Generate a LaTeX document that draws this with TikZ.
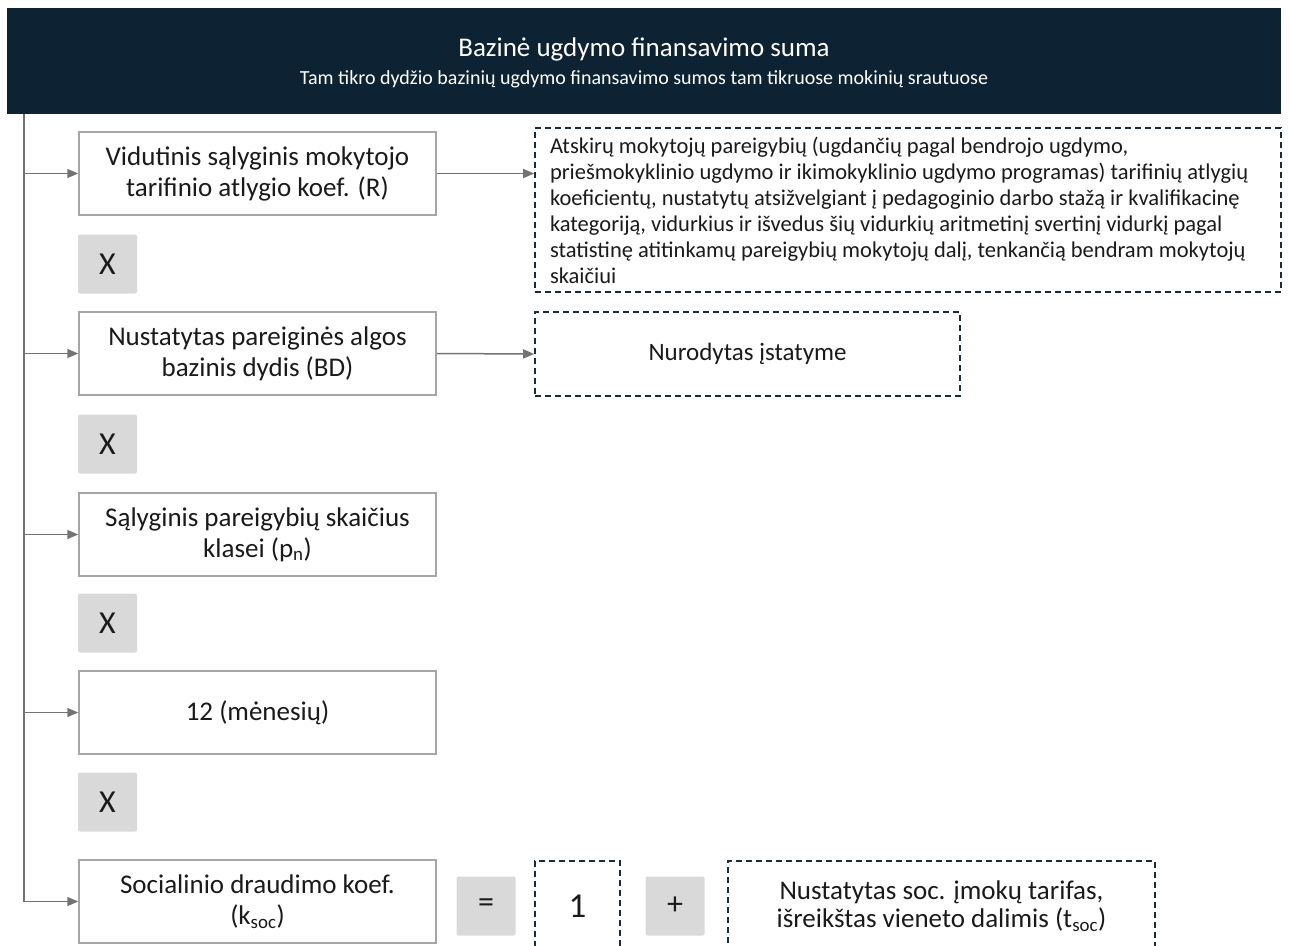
\documentclass[tikz,border=0pt]{standalone}
\usepackage{fontspec}
\setmainfont{Carlito}
\usetikzlibrary{positioning, arrows.meta}
\definecolor{headblue}{HTML}{0D2233}
\definecolor{linegray}{HTML}{737373}
\definecolor{boxgray}{HTML}{A6A6A6}
\definecolor{opgray}{HTML}{D9D9D9}
\definecolor{dashblue}{HTML}{1C2B3A}
\definecolor{textdark}{HTML}{1A1A1A}

\begin{document}
\begin{tikzpicture}[x=1pt, y=-1pt, >={Triangle[length=11pt, width=9pt]},
  box/.style={draw=boxgray, line width=1.5pt, fill=white, text=textdark, minimum width=357pt, minimum height=83pt, inner sep=0pt, align=center, font=\fontsize{27}{31}\selectfont},
  opbox/.style={fill=opgray, rounded corners=2pt, text=textdark, minimum size=59pt, inner sep=0pt, font=\fontsize{32}{34}\selectfont},
  note/.style={draw=dashblue, dashed, dash pattern=on 6pt off 4pt, line width=1.6pt, text=textdark, inner sep=0pt},
  arr/.style={->, draw=linegray, line width=1.5pt}]
  \useasboundingbox (0,0) rectangle (1289,945);
  \clip (0,0) rectangle (1289,945);

  % header
  \node (head) [fill=headblue, minimum width=1274pt, minimum height=106pt, inner sep=0pt] at (644,61) {};
  \node (title) [text=white, font=\fontsize{27}{30}\selectfont] at (644,49) {Bazinė ugdymo finansavimo suma};
  \node (subtitle) [text=white, font=\fontsize{20}{22}\selectfont] at (644,79) {Tam tikro dydžio bazinių ugdymo finansavimo sumos tam tikruose mokinių srautuose};

  % factors
  \node (koefR) [box] at (257.5,173.5) {Vidutinis sąlyginis mokytojo\\tarifinio atlygio koef. (R)};
  \node (bazinis) [box] at (257.5,353.5) {Nustatytas pareiginės algos\\bazinis dydis (BD)};
  \node (pareigybes) [box] at (257.5,534.5) {Sąlyginis pareigybių skaičius\\klasei (p\textsubscript{n})};
  \node (menesiai) [box] at (257.5,712.5) {12 (mėnesių)};
  \node (ksoc) [box] at (257.5,901.5) {Socialinio draudimo koef.\\(k\textsubscript{soc})};

  % operators
  \node (x1) [opbox] at (107.5,264) {X};
  \node (x2) [opbox] at (107.5,444) {X};
  \node (x3) [opbox] at (107.5,623) {X};
  \node (x4) [opbox] at (107.5,802) {X};
  \node (eq) [opbox] at (486,906) {=};
  \node (plus) [opbox] at (675,906) {+};

  % notes
  \node (noteR) [note, minimum width=746pt, minimum height=164pt, text width=716pt, align=flush left, font=\fontsize{22.5}{26}\selectfont] at (908,210)
    {Atskirų mokytojų pareigybių (ugdančių pagal bendrojo ugdymo,\\
     priešmokyklinio ugdymo ir ikimokyklinio ugdymo programas) tarifinių atlygių\\
     koeficientų,  nustatytų atsižvelgiant į pedagoginio  darbo stažą ir kvalifikacinę\\
     kategoriją, vidurkius ir išvedus šių vidurkių aritmetinį  svertinį vidurkį pagal\\
     statistinę atitinkamų  pareigybių mokytojų dalį, tenkančią bendram mokytojų\\
     skaičiui};
  \node (noteBD) [note, minimum width=425pt, minimum height=84pt, font=\fontsize{25}{28}\selectfont] at (747.5,354) {Nurodytas įstatyme};
  \node (one) [note, minimum width=85pt, minimum height=90pt, font=\fontsize{35}{38}\selectfont] at (577.5,906) {1};
  \node (tarifas) [note, minimum width=427pt, minimum height=90pt, align=center, font=\fontsize{27}{28}\selectfont] at (941.5,906)
    {Nustatytas soc. įmokų tarifas,\\išreikštas vieneto dalimis (t\textsubscript{soc})};

  % connectors
  \coordinate (trunk) at (24,114);
  \draw [arr] (trunk) |- (ksoc.west);
  \draw [arr] (trunk |- koefR.west) -- (koefR.west);
  \draw [arr] (trunk |- bazinis.west) -- (bazinis.west);
  \draw [arr] (trunk |- pareigybes.west) -- (pareigybes.west);
  \draw [arr] (trunk |- menesiai.west) -- (menesiai.west);
  \draw [arr] (koefR.east) -- (koefR.east -| noteR.west);
  \draw [arr] (bazinis.east) -- (noteBD.west);
\end{tikzpicture}
\end{document}
